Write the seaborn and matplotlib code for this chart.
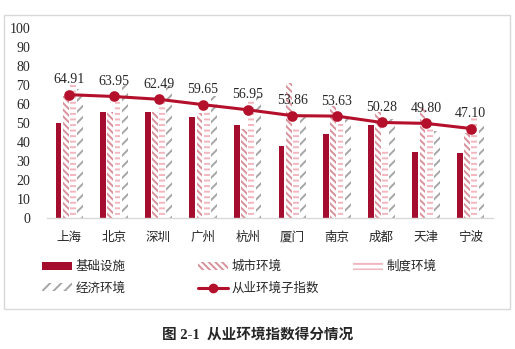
import matplotlib
matplotlib.use("Agg")
import matplotlib.pyplot as plt
import matplotlib.patches as mpatches
from matplotlib.lines import Line2D
import seaborn as sns
import pandas as pd

cities = ["上海", "北京", "深圳", "广州", "杭州", "厦门", "南京", "成都", "天津", "宁波"]
infra = [50, 56, 56, 53, 49, 38, 44, 49, 35, 34]          # 基础设施
urban = [64, 56, 56, 55, 47, 71, 59, 56, 58, 45]          # 城市环境
inst = [70, 62, 61, 57, 62, 48, 51, 37, 51, 53]           # 制度环境
econ = [68, 70, 70, 64, 64, 54, 53, 52, 46, 50]           # 经济环境
index_vals = [64.91, 63.95, 62.49, 59.65, 56.95, 53.86, 53.63, 50.28, 49.80, 47.10]  # 从业环境子指数
series_names = ["基础设施", "城市环境", "制度环境", "经济环境"]
yticks = [0, 10, 20, 30, 40, 50, 60, 70, 80, 90, 100]

sns.set_style("white")
plt.rcParams["font.family"] = ["Liberation Serif", "Noto Sans CJK SC", "DejaVu Sans"]
plt.rcParams["hatch.linewidth"] = 1.4

rows = []
for name, vals in zip(series_names, [infra, urban, inst, econ]):
    for c, v in zip(cities, vals):
        rows.append({"city": c, "series": name, "value": v})
df = pd.DataFrame(rows)

W, H = 515, 349
fig = plt.figure(figsize=(W / 100, H / 100), dpi=100)
ax = fig.add_axes([47 / W, 1 - 218 / H, 446 / W, 190 / H])

dark = "#a50d2f"
line_c = "#b5102b"
urban_c = "#d9919b"
inst_c = "#f2b6be"
econ_c = "#a6a6a6"

palette = {"基础设施": dark, "城市环境": "white", "制度环境": "white", "经济环境": "white"}
sns.barplot(data=df, x="city", y="value", hue="series", order=cities,
            hue_order=series_names, palette=palette, width=0.65, gap=0.2,
            ax=ax, legend=False, errorbar=None)

styles = [
    dict(fc=dark, ec=dark, hatch=None),
    dict(fc="white", ec=urban_c, hatch="\\\\\\\\\\"),
    dict(fc="white", ec=inst_c, hatch="---"),
    dict(fc="white", ec=econ_c, hatch="///"),
]
for cont, st in zip(ax.containers, styles):
    for p in cont:
        p.set_facecolor(st["fc"])
        p.set_edgecolor(st["ec"])
        p.set_linewidth(0)
        if st["hatch"]:
            p.set_hatch(st["hatch"])

sns.pointplot(x=cities, y=index_vals, order=cities, color=line_c, markers="o",
              errorbar=None, ax=ax, markersize=6, linewidth=2.2)

for i, v in enumerate(index_vals):
    ax.annotate(f"{v:.2f}", (i, v), xytext=(0, 6), textcoords="offset points",
                ha="center", va="bottom", fontsize=10, family="Liberation Serif")

ax.set_ylim(0, 100)
ax.set_xlim(-0.5, len(cities) - 0.5)
ax.set_yticks(yticks)
ax.set_yticklabels([str(t) for t in yticks], fontsize=10, family="Liberation Serif")
ax.set_xlabel("")
ax.set_ylabel("")
ax.tick_params(axis="y", length=0, pad=12)
ax.tick_params(axis="x", length=0, pad=9)
for lab in ax.get_xticklabels():
    lab.set_fontsize(9)
    lab.set_family(["Noto Sans CJK SC"])
for s in ["left", "top", "right"]:
    ax.spines[s].set_visible(False)
ax.spines["bottom"].set_color("#d9d9d9")
ax.spines["bottom"].set_linewidth(1)
ax.grid(False)

# legend handles
h_infra = mpatches.Patch(facecolor=dark, edgecolor=dark, linewidth=0)
h_urban = mpatches.Patch(facecolor="white", edgecolor=urban_c, hatch="\\\\\\\\\\", linewidth=0)
h_inst = mpatches.Patch(facecolor="white", edgecolor=inst_c, hatch="---", linewidth=0)
h_econ = mpatches.Patch(facecolor="white", edgecolor=econ_c, hatch="///", linewidth=0)
h_line = Line2D([0], [0], color=line_c, lw=2.2, marker="o", markersize=6)

leg_kw = dict(frameon=False, loc="upper left", borderpad=0, borderaxespad=0,
              handlelength=2.4, handleheight=0.6, handletextpad=0.3, labelspacing=0.7,
              prop={"family": ["Noto Sans CJK SC"], "size": 9})
l1 = fig.legend([h_infra, h_econ], ["基础设施", "经济环境"],
                bbox_to_anchor=(42 / W, 1 - 260 / H), **leg_kw)
l2 = fig.legend([h_urban, h_line], ["城市环境", "从业环境子指数"],
                bbox_to_anchor=(198 / W, 1 - 260 / H), **leg_kw)
l3 = fig.legend([h_inst], ["制度环境"],
                bbox_to_anchor=(353 / W, 1 - 260 / H), **leg_kw)

# chart border
fig.patches.append(mpatches.Rectangle((4 / W, 1 - 309 / H), 506 / W, 294 / H,
                                      transform=fig.transFigure, fill=False,
                                      edgecolor="#d9d9d9", linewidth=1))

fig.text(0.5, 1 - 335 / H, "图 2-1  从业环境指数得分情况", ha="center", va="center",
         fontsize=10.5, fontweight="bold",
         family=["Liberation Serif", "Noto Sans CJK SC"])

fig.savefig("out.png", dpi=100)
